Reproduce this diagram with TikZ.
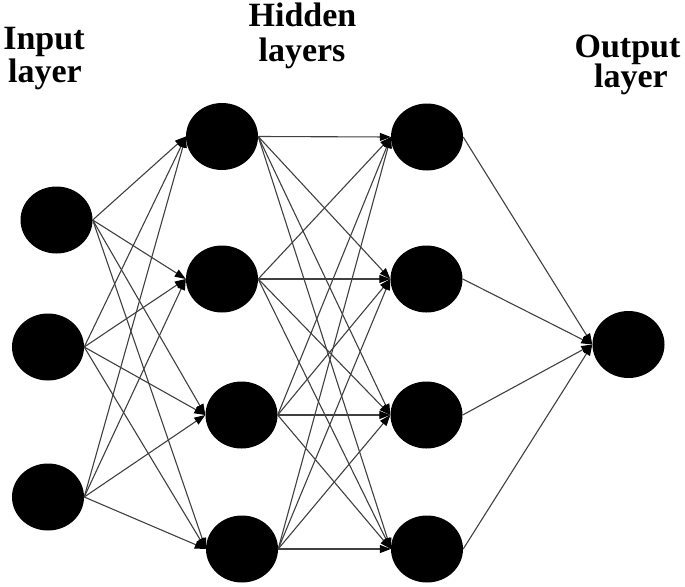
\documentclass[tikz,border=0pt]{standalone}
\usepackage{fontspec}
\setmainfont{Liberation Serif}
\usetikzlibrary{shapes.geometric,arrows.meta}
\tikzset{
  neuron/.style={ellipse,fill=black,draw=none,minimum width=72pt,minimum height=67pt,inner sep=0pt},
  title/.style={font=\fontsize{34}{34}\selectfont\bfseries,inner sep=0pt,anchor=base},
  conn/.style={draw=black!75,line width=1.1pt,-{Triangle[length=11pt,width=8pt,fill=black,color=black]}}
}
\begin{document}
\begin{tikzpicture}[x=1pt,y=-1pt]
\useasboundingbox (0,0) rectangle (685,586);
% titles
\node[title] (t1a) at (44,50) {Input};
\node[title] (t1b) at (45,82) {layer};
\node[title] (t2a) at (302.5,27) {Hidden};
\node[title] (t2b) at (302,62) {layers};
\node[title] (t3a) at (627.5,57) {Output};
\node[title] (t3b) at (631,88) {layer};
% input layer
\node[neuron] (i1) at (56.5,220) {};
\node[neuron] (i2) at (48,347) {};
\node[neuron] (i3) at (48,497) {};
% hidden layer 1
\node[neuron] (a1) at (222,136.5) {};
\node[neuron] (a2) at (222,279) {};
\node[neuron] (a3) at (241.5,415) {};
\node[neuron] (a4) at (242,549) {};
% hidden layer 2
\node[neuron] (b1) at (427,137) {};
\node[neuron] (b2) at (426.5,279) {};
\node[neuron] (b3) at (426.5,415) {};
\node[neuron] (b4) at (427,549) {};
% output
\node[neuron] (o1) at (628.5,344.5) {};
% connections
\foreach \i in {1,2,3}{
  \foreach \j in {1,2,3,4}{
    \draw[conn] (i\i.east) -- (a\j.west);
  }
}
\foreach \i in {1,2,3,4}{
  \foreach \j in {1,2,3,4}{
    \draw[conn] (a\i.east) -- (b\j.west);
  }
  \draw[conn] (b\i.east) -- (o1.west);
}
\end{tikzpicture}
\end{document}
